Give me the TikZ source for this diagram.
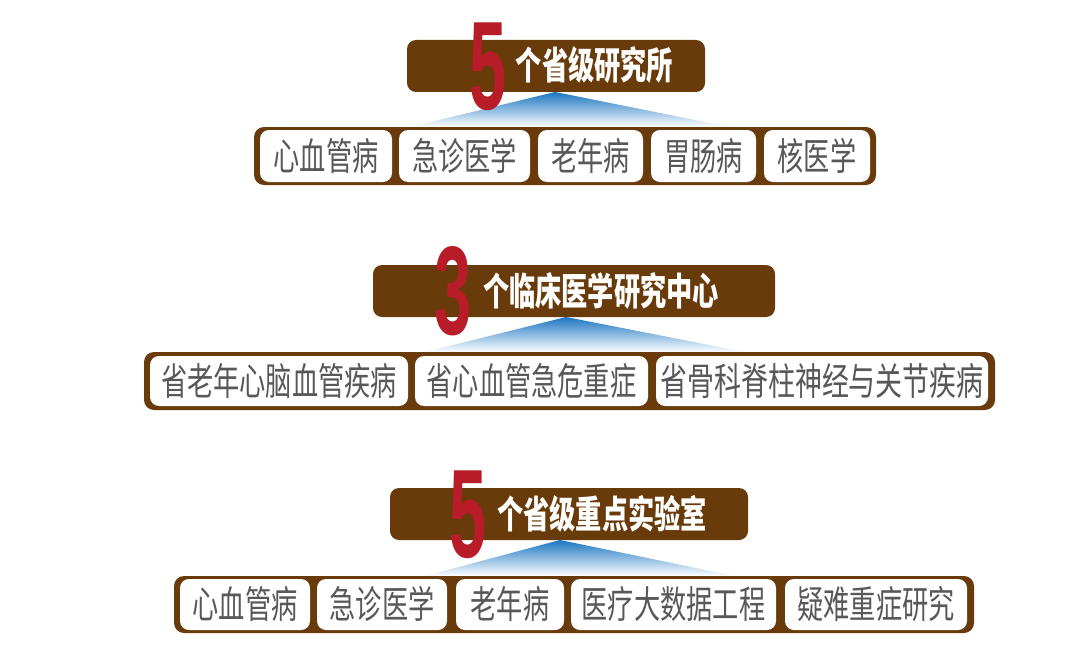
\documentclass[tikz,border=0pt]{standalone}
\usepackage{fontspec}
\newfontfamily\cjk[FakeStretch=0.69]{Noto Sans CJK SC}
\newfontfamily\cjkwide[FakeStretch=0.71]{Noto Sans CJK SC}
\newfontfamily\numfont[FakeStretch=0.53]{Liberation Sans}
\definecolor{barbrown}{RGB}{105,58,10}
\definecolor{numred}{RGB}{183,28,40}
\definecolor{txtgray}{RGB}{88,88,88}
\definecolor{skyblue}{RGB}{28,118,194}
\begin{document}
\begin{tikzpicture}[x=1pt,y=-1pt,
	bar/.style={fill=barbrown,rounded corners=10pt,inner sep=0pt},
	head/.style={fill=barbrown,rounded corners=9pt,inner sep=0pt,minimum height=52pt},
	item/.style={fill=white,rounded corners=9pt,inner sep=0pt,text=txtgray,
		font=\cjk\fontsize{38}{38}\selectfont,text height=31.5pt,text depth=2.7pt},
	title/.style={inner sep=0pt,text=white,font=\cjk\bfseries\fontsize{38}{38}\selectfont,
		text height=31.5pt,text depth=2.7pt},
	count/.style={inner sep=0pt,anchor=base,text=numred,font=\numfont\bfseries\fontsize{126}{126}\selectfont},
	fan/.style={top color=skyblue,bottom color=white}]
	\useasboundingbox (0,0) rectangle (1080,661);

	\node[head,minimum width=298pt](hdr1) at (556,66) {};
	\coordinate (apex1) at (555,92);
	\coordinate (left1) at (410,127);
	\coordinate (right1) at (730,127);
	\shade[fan] (apex1) -- (left1) -- (right1) -- cycle;
	\node[count](n1) at (488,110) {5};
	\node[title](t1) at (594.5,65.5) {个省级研究所};
	\node[bar,minimum width=622pt,minimum height=58pt](bar1) at (565,156) {};
	\node[item,minimum width=132pt,minimum height=52pt](b11) at (326,156) {心血管病};
	\node[item,minimum width=131pt,minimum height=52pt](b12) at (464.5,156) {急诊医学};
	\node[item,minimum width=105pt,minimum height=52pt](b13) at (590.5,156) {老年病};
	\node[item,minimum width=105pt,minimum height=52pt](b14) at (703.5,156) {胃肠病};
	\node[item,minimum width=106pt,minimum height=52pt](b15) at (817,156) {核医学};

	\node[head,minimum width=402pt](hdr2) at (574,291) {};
	\coordinate (apex2) at (566,317);
	\coordinate (left2) at (425,352);
	\coordinate (right2) at (745,352);
	\shade[fan] (apex2) -- (left2) -- (right2) -- cycle;
	\node[count](n2) at (453.5,334) {3};
	\node[title](t2) at (601,291) {个临床医学研究中心};
	\node[bar,minimum width=851pt,minimum height=58pt](bar2) at (569.5,381) {};
	\node[item,minimum width=258pt,minimum height=50pt](b21) at (279,381) {省老年心脑血管疾病};
	\node[item,minimum width=233pt,minimum height=50pt](b22) at (531.5,381) {省心血管急危重症};
	\node[item,minimum width=332pt,minimum height=50pt,font=\cjkwide\fontsize{38}{38}\selectfont](b23) at (822,381) {省骨科脊柱神经与关节疾病};

	\node[head,minimum width=358pt](hdr3) at (569,514) {};
	\coordinate (apex3) at (560,540);
	\coordinate (left3) at (425,576);
	\coordinate (right3) at (735,576);
	\shade[fan] (apex3) -- (left3) -- (right3) -- cycle;
	\node[count](n3) at (468.5,557) {5};
	\node[title](t3) at (602,514) {个省级重点实验室};
	\node[bar,minimum width=800pt,minimum height=57pt](bar3) at (574,604.5) {};
	\node[item,minimum width=130pt,minimum height=51pt](b31) at (245,604.5) {心血管病};
	\node[item,minimum width=130pt,minimum height=51pt](b32) at (382,604.5) {急诊医学};
	\node[item,minimum width=108pt,minimum height=51pt](b33) at (510,604.5) {老年病};
	\node[item,minimum width=205pt,minimum height=51pt](b34) at (673.5,604.5) {医疗大数据工程};
	\node[item,minimum width=182pt,minimum height=51pt](b35) at (876,604.5) {疑难重症研究};
\end{tikzpicture}
\end{document}
